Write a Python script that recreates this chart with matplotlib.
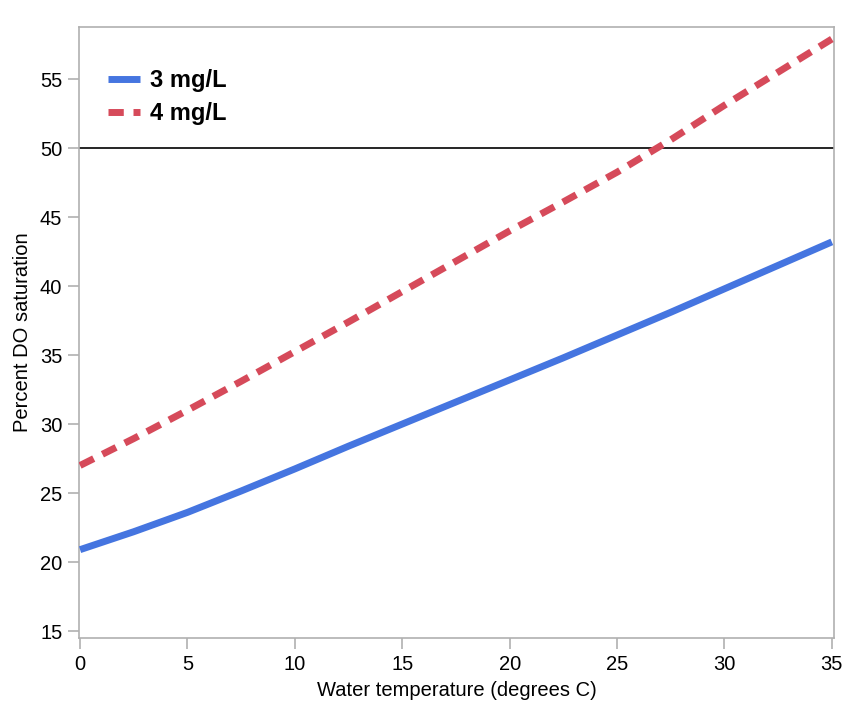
import matplotlib.pyplot as plt

plt.rcParams['font.family'] = ['Liberation Sans', 'DejaVu Sans']

temps = [0, 2.5, 5, 7.5, 10, 12.5, 15, 17.5, 20, 22.5, 25, 27.5, 30, 32.5, 35]
do_3mg = [20.9, 22.2, 23.6, 25.15, 26.75, 28.4, 30.0, 31.6, 33.2, 34.8, 36.45, 38.1, 39.8, 41.5, 43.2]
do_4mg = [27.0, 28.95, 31.0, 33.1, 35.25, 37.4, 39.6, 41.8, 44.0, 46.1, 48.25, 50.6, 53.1, 55.5, 57.9]
threshold = 50

fig = plt.figure(figsize=(8.43, 7.02), dpi=100)
ax = fig.add_axes([0.0937, 0.0912, 0.8956, 0.8703])

# 50% reference line
ax.axhline(threshold, color='black', lw=1.2, zorder=1)
ax.plot(temps, do_3mg, color='#4575e0', lw=5, label='3 mg/L', solid_capstyle='butt', zorder=3)
ax.plot(temps, do_4mg, color='#d64a5a', lw=5, label='4 mg/L', dashes=(2.2, 1.4), zorder=3)

ax.set_xlim(-0.05, 35.1)
ax.set_ylim(14.5, 58.77)
ax.set_xticks(range(0, 36, 5))
ax.set_yticks(range(15, 56, 5))

for s in ax.spines.values():
    s.set_color('#b0b0b0')
    s.set_linewidth(1.2)
ax.tick_params(colors='#b0b0b0', labelcolor='black', labelsize=14.5, length=8, width=1.2, pad=4)

ax.set_xlabel('Water temperature (degrees C)', fontsize=14.5, labelpad=5)
ax.set_ylabel('Percent DO saturation', fontsize=14.5, labelpad=6)

leg = ax.legend(loc='upper left', bbox_to_anchor=(0.01, 0.966), frameon=False,
                handlelength=1.35, handletextpad=0.45, labelspacing=0.42,
                prop={'weight': 'bold', 'size': 17})

fig.savefig('out.png', dpi=100)
